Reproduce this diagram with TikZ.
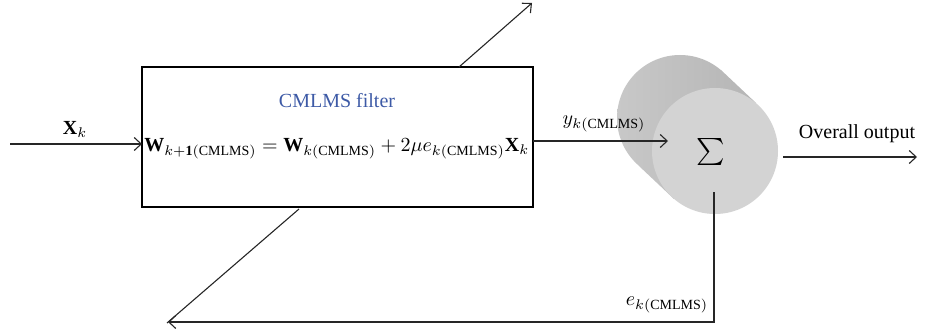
\documentclass[tikz,border=0pt]{standalone}
\usepackage{fontspec}
\setmainfont{Liberation Serif}
\setmathrm{Liberation Serif}
\usetikzlibrary{arrows.meta}
\definecolor{titleblue}{HTML}{3D5AA6}
\definecolor{facegray}{HTML}{D3D3D3}
\definecolor{sidelight}{HTML}{C8C8C8}
\definecolor{sidedark}{HTML}{7E7E7E}
\definecolor{sideright}{HTML}{B5B5B5}
\begin{document}
\begin{tikzpicture}[x=1pt,y=-1pt,
  every node/.style={inner sep=0pt, scale=2, transform shape},
  wire/.style={line width=1.1pt, draw=black!85},
  arr/.style={wire, -{Straight Barb[length=7pt,width=13pt,line width=1.1pt]}},
  filterbox/.style={draw=black, line width=1.3pt}]
\useasboundingbox (0,0) rectangle (934,334);

% adaptive filter block
\draw[filterbox] (142,67) rectangle (533,207);
\node[text=titleblue] (title) at (337,101) {CMLMS filter};
\node[anchor=west] (eq) at (144,149)
  {$\mathbf{W}_{k+\mathbf{1}(\mathrm{CMLMS})} = \mathbf{W}_{k(\mathrm{CMLMS})} + 2\mu e_{k(\mathrm{CMLMS})}\mathbf{X}_k$};

\coordinate (boxW) at (142,144);
\coordinate (boxE) at (533,141);
\coordinate (inStart) at (10,144);
\coordinate (upStart) at (459,67);
\coordinate (upEnd) at (532,3);
\coordinate (dnStart) at (299,209);
\coordinate (dnEnd) at (167,323);

% summing junction drawn as a short cylinder
\shade[left color=sidelight, middle color=sidedark, right color=sideright]
  (680,118) circle[radius=63]
  (721,70) -- (756,103) -- (674,199) -- (639,166) -- cycle;
\fill[facegray] (715,151) circle[radius=63];
\node[scale=1.35] (sum) at (711,152) {$\sum$};
\coordinate (sumS) at (714,192);
\coordinate (sumE) at (783,157);
\coordinate (sumIn) at (668,141);
\coordinate (fbCorner) at (714,322);
\coordinate (fbEnd) at (168,322);
\coordinate (outEnd) at (917,157);

% signal paths
\draw[arr] (inStart) -- (boxW);
\node (xk) at (75,129) {$\mathbf{X}_k$};
\draw[arr] (boxE) -- (sumIn);
\node (yk) at (604,124) {$y_{k(\mathrm{CMLMS})}$};
\draw[arr] (sumE) -- (outEnd);
\node (out) at (857,134) {Overall output};
\draw[arr] (upStart) -- (upEnd);
\draw[wire] (dnStart) -- (dnEnd);
\draw[arr] (sumS) -- (fbCorner) -- (fbEnd);
\node (ek) at (667,305) {$e_{k(\mathrm{CMLMS})}$};
\end{tikzpicture}
\end{document}
